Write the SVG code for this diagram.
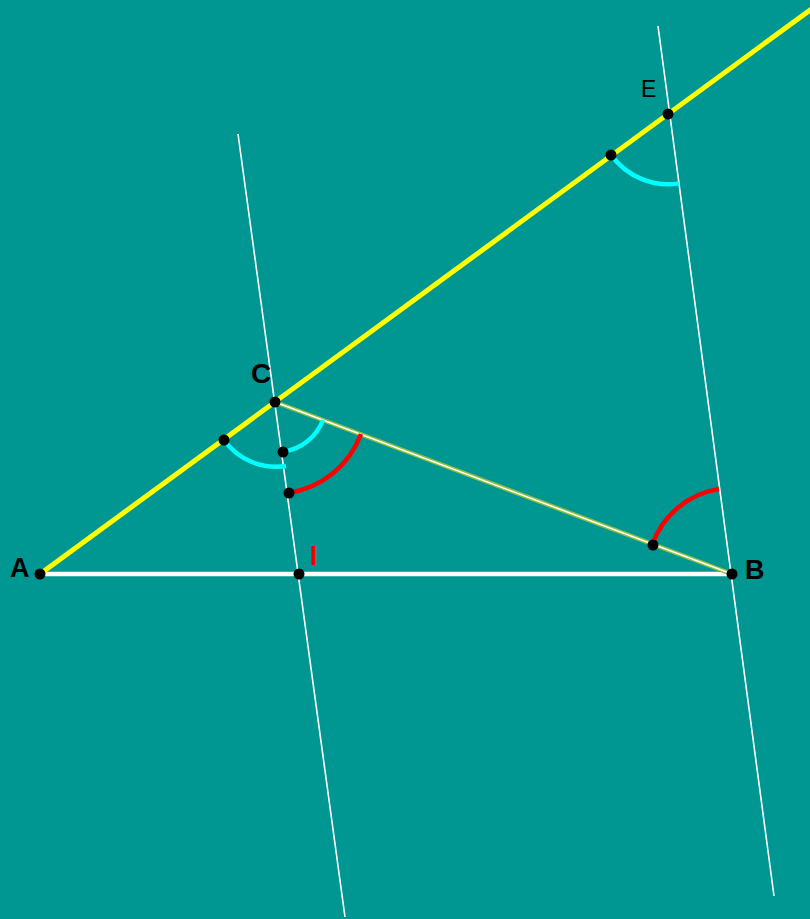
<svg xmlns="http://www.w3.org/2000/svg" width="810" height="919" viewBox="0 0 810 919">
<style>
.thin{stroke:#ffffff;stroke-width:1.6;fill:none}
.arc{fill:none;stroke-width:4.5}
.cy{stroke:#00ffff}
.rd{stroke:#ff0000}
.pt{fill:#000000}
.lbl{font-family:"Liberation Sans",Arial,sans-serif;fill:#000000}
</style>
<rect x="0" y="0" width="810" height="919" fill="#009692"/>
<g id="lines">
<line class="thin" x1="238" y1="134" x2="345" y2="917"/>
<line class="thin" x1="658" y1="26" x2="774" y2="896"/>
<line x1="40" y1="574" x2="732" y2="574" stroke="#ffffff" stroke-width="4.5"/>
<line x1="275" y1="402" x2="732" y2="574" stroke="#8fbf3f" stroke-width="4.5"/>
<line x1="275" y1="402" x2="732" y2="574" stroke="#ffffff" stroke-width="1.5"/>
<line x1="40" y1="574" x2="812" y2="8.6" stroke="#ffff00" stroke-width="5"/>
</g>
<g id="arcs">
<path class="arc cy" d="M224,440 A64,64 0 0 0 286,466"/>
<path class="arc cy" d="M283.3,451.6 A50,50 0 0 0 323,420"/>
<path class="arc rd" d="M288,493 A92,92 0 0 0 361,434"/>
<path class="arc rd" d="M652.4,544.1 A85,85 0 0 1 719,489"/>
<path class="arc cy" d="M611.5,155.4 A70,70 0 0 0 679,183.4"/>
</g>
<g id="points">
<circle class="pt" cx="40" cy="574" r="5.5"/>
<circle class="pt" cx="732" cy="574" r="5.5"/>
<circle class="pt" cx="275" cy="402" r="5.5"/>
<circle class="pt" cx="668" cy="114" r="5.5"/>
<circle class="pt" cx="299" cy="574" r="5.5"/>
<circle class="pt" cx="224" cy="440" r="5.5"/>
<circle class="pt" cx="283" cy="452" r="5.5"/>
<circle class="pt" cx="289" cy="493" r="5.5"/>
<circle class="pt" cx="653" cy="545" r="5.5"/>
<circle class="pt" cx="611" cy="155" r="5.5"/>
</g>
<g id="labels">
<text class="lbl" x="10" y="577" font-size="27" font-weight="bold">A</text>
<text class="lbl" x="745" y="579" font-size="27" font-weight="bold">B</text>
<text class="lbl" x="251" y="383" font-size="28" font-weight="bold">C</text>
<text class="lbl" x="641" y="97" font-size="23">E</text>
<text x="310" y="565" font-size="27" font-weight="bold" font-family="Liberation Sans,Arial,sans-serif" fill="#ff0000">I</text>
</g>
</svg>
